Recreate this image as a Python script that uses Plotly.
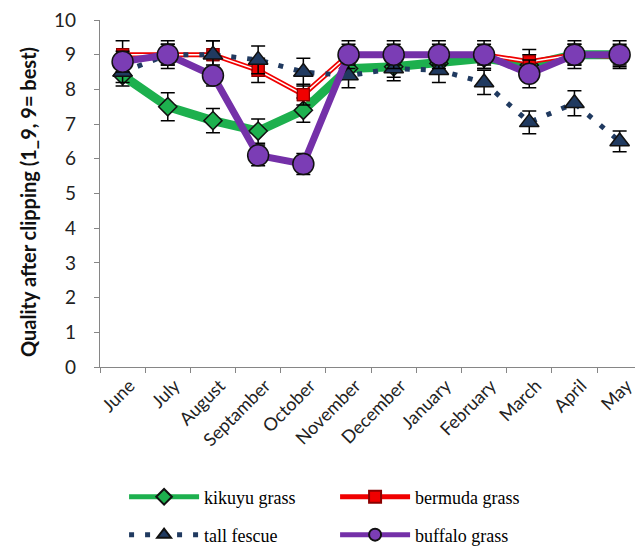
import plotly.graph_objects as go

# Months on the x axis (label spelling as printed on the chart)
months = ["June", "July", "August", "Septamber", "October", "November",
          "December", "January", "February", "March", "April", "May"]

# Mean quality scores after clipping (1-9 scale)
kikuyu = [8.4, 7.5, 7.1, 6.8, 7.4, 8.6, 8.65, 8.75, 8.9, 8.7, 9.0, 9.0]
bermuda = [9.0, 9.0, 9.0, 8.55, 7.85, 9.0, 9.0, 9.0, 9.0, 8.8, 9.0, 8.95]
tall_fescue = [8.5, 9.0, 9.0, 8.85, 8.5, 8.4, 8.6, 8.55, 8.2, 7.05, 7.6, 6.5]
buffalo = [8.8, 9.0, 8.4, 6.1, 5.85, 9.0, 9.0, 9.0, 9.0, 8.45, 9.0, 9.0]

# Standard errors
kikuyu_err = [0.3, 0.4, 0.35, 0.35, 0.35, 0.3, 0.3, 0.3, 0.3, 0.3, 0.3, 0.3]
bermuda_err = [0.4, 0.3, 0.4, 0.35, 0.3, 0.3, 0.3, 0.3, 0.3, 0.35, 0.3, 0.3]
tall_fescue_err = [0.3, 0.3, 0.4, 0.4, 0.4, 0.35, 0.35, 0.35, 0.35, 0.33, 0.36, 0.3]
buffalo_err = [0.3, 0.4, 0.3, 0.3, 0.3, 0.4, 0.4, 0.4, 0.4, 0.4, 0.4, 0.4]

y_title = "Quality after clipping (1_9, 9= best)"

GREEN = "#1DB04E"
RED = "#F00000"
NAVY = "#203A60"
PURPLE = "#7430A8"
EDGE = "#111111"


def err(values):
    return dict(type="data", array=values, color="black", thickness=1.5, width=7)


fig = go.Figure()

fig.add_trace(go.Scatter(
    x=months, y=kikuyu, name="kikuyu grass", mode="lines+markers",
    line=dict(color=GREEN, width=9),
    marker=dict(symbol="diamond", size=14, color=GREEN, line=dict(color=EDGE, width=1.5)),
    error_y=err(kikuyu_err), legend="legend", legendrank=1,
))

# bermuda grass: red double line (red stroke with a white core)
fig.add_trace(go.Scatter(
    x=months, y=bermuda, name="bermuda grass", mode="lines+markers",
    line=dict(color=RED, width=5),
    marker=dict(symbol="square", size=12, color=RED, line=dict(color="#8B0000", width=1.2)),
    error_y=err(bermuda_err), legend="legend", legendrank=2,
))
fig.add_trace(go.Scatter(
    x=months, y=bermuda, mode="lines", showlegend=False, hoverinfo="skip",
    line=dict(color="white", width=1.5),
))
fig.add_trace(go.Scatter(
    x=months, y=bermuda, mode="markers", showlegend=False, hoverinfo="skip",
    marker=dict(symbol="square", size=12, color=RED, line=dict(color="#8B0000", width=1.2)),
))

fig.add_trace(go.Scatter(
    x=months, y=tall_fescue, name="tall fescue", mode="lines+markers",
    line=dict(color=NAVY, width=5, dash="5px,11px"),
    marker=dict(symbol="triangle-up", size=17, color=NAVY, line=dict(color=EDGE, width=1.5)),
    error_y=err(tall_fescue_err), legend="legend2", legendrank=3,
))

fig.add_trace(go.Scatter(
    x=months, y=buffalo, name="buffalo grass", mode="lines+markers",
    line=dict(color=PURPLE, width=7),
    marker=dict(symbol="circle", size=21, color="#7B3DB5", line=dict(color=EDGE, width=1.5)),
    error_y=err(buffalo_err), legend="legend2", legendrank=4,
))

legend_style = dict(
    orientation="h", xanchor="left", yanchor="middle",
    font=dict(family="Liberation Serif, Times New Roman, serif", size=18, color="black"),
    entrywidth=126, entrywidthmode="pixels", bgcolor="rgba(0,0,0,0)",
    itemwidth=70, itemsizing="constant",
)

fig.update_layout(
    width=635, height=547,
    margin=dict(l=100, r=0, t=20, b=180, autoexpand=False),
    paper_bgcolor="white", plot_bgcolor="white",
    font=dict(family="Lato", color="#222222"),
    showlegend=True,
    legend=dict(x=0.045, y=-0.375, **legend_style),
    legend2=dict(x=0.045, y=-0.484, **legend_style),
    xaxis=dict(
        type="category", range=[-0.5, 11.34],
        tickangle=-45, tickson="boundaries", ticklabelshift=7,
        ticks="outside", ticklen=5, tickcolor="#868686",
        showline=True, linecolor="#868686", linewidth=1.3,
        showgrid=False, zeroline=False,
        tickfont=dict(family="Lato", size=18, color="#222222"),
    ),
    yaxis=dict(
        range=[0, 10], dtick=1, tick0=0,
        ticks="outside", ticklen=5, tickcolor="#868686",
        showline=True, linecolor="#868686", linewidth=1.3,
        showgrid=False, zeroline=False, ticklabelstandoff=14,
        tickfont=dict(family="Lato", size=19, color="#222222"),
    ),
    annotations=[dict(
        text="<b>" + y_title + "</b>", textangle=-90, showarrow=False,
        xref="paper", yref="paper", x=-0.135, y=0.475,
        xanchor="center", yanchor="middle",
        font=dict(family="Lato", size=20, color="#111111"),
    )],
)

fig.write_html("out.html")
